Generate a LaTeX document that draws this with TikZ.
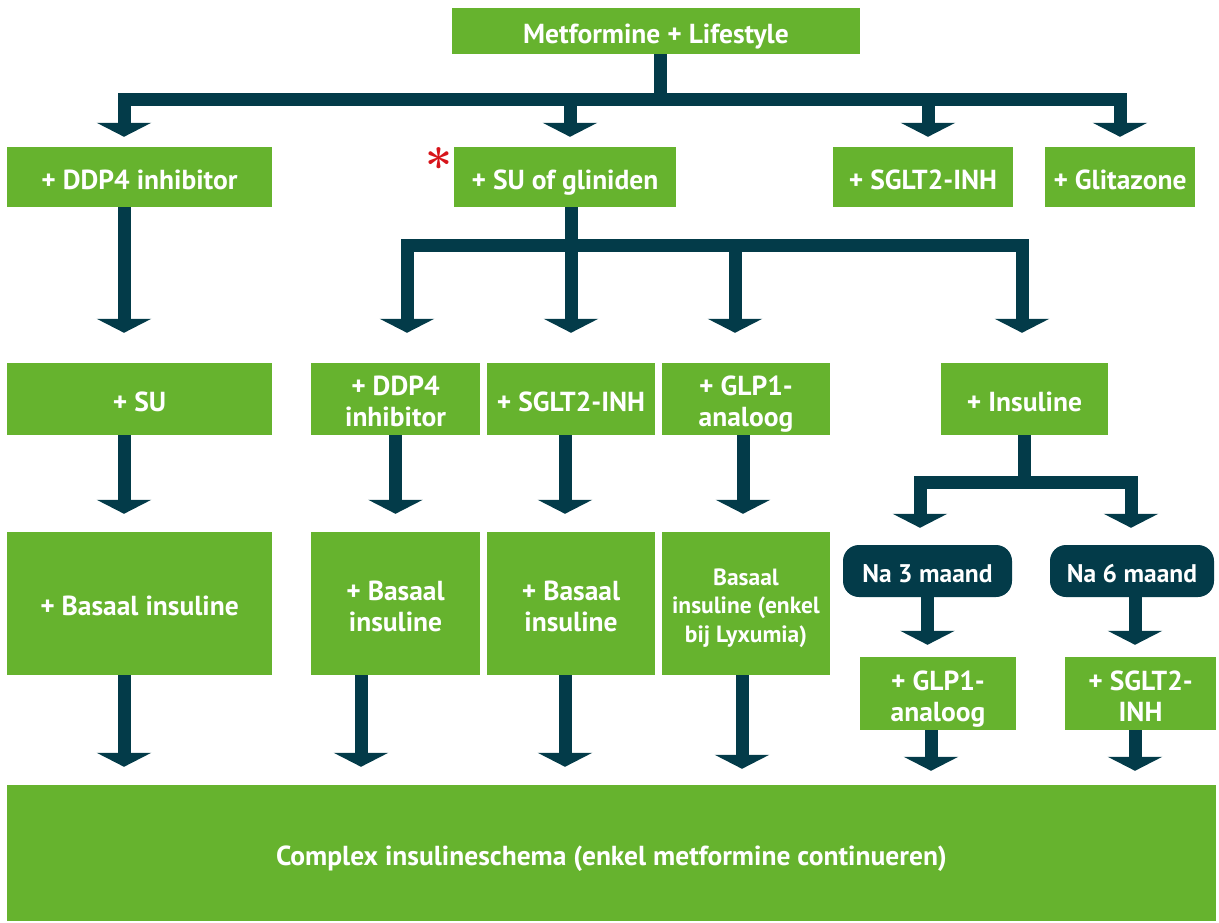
\documentclass[tikz,border=0pt]{standalone}
\usepackage{fontspec}
\newfontfamily\lab{PT Sans}
\usetikzlibrary{arrows.meta,calc}
\definecolor{gr}{HTML}{66B32E}
\definecolor{dk}{HTML}{033B49}
\definecolor{rd}{HTML}{D7141A}
% fixed height of first line and depth of last line, so every label sits alike
\newcommand\Tl{\rule{0pt}{1.14em}}
\newcommand\Bl{\rule[-0.25em]{0pt}{0pt}}
\begin{document}
\begin{tikzpicture}[x=1pt,y=-1pt,
  box/.style={fill=gr, text=white, font=\lab\bfseries\fontsize{27.5}{31}\selectfont, align=center, inner sep=0pt},
  smallbox/.style={box, font=\lab\bfseries\fontsize{23.5}{28.5}\selectfont},
  dbox/.style={box, fill=dk, rounded corners=16pt, font=\lab\bfseries\fontsize{25.5}{30}\selectfont},
  conn/.style={draw=dk, line width=13pt, line join=miter},
  arr/.style={conn, -{Triangle[width=54pt,length=14pt]}}]
\useasboundingbox (0,0) rectangle (1219,923);

% boxes
\node[box, minimum width=408pt, minimum height=46pt] (top) at (656,31) {\Tl Metformine + Lifestyle\Bl};

\node[box, minimum width=265pt, minimum height=60pt] (ddp4a) at (139.5,177) {\Tl + DDP4 inhibitor\Bl};
\node[box, minimum width=222pt, minimum height=60pt] (su) at (565,177) {\Tl + SU of gliniden\Bl};
\node[box, minimum width=180pt, minimum height=60pt] (sglt2a) at (923,177) {\Tl + SGLT2-INH\Bl};
\node[box, minimum width=150pt, minimum height=60pt] (glit) at (1120,177) {\Tl + Glitazone\Bl};
\node[text=rd, inner sep=0pt, font=\bfseries\fontsize{48}{48}\selectfont] (ast) at (439,166) {*};

\node[box, minimum width=265pt, minimum height=72pt] (su2) at (139.5,399) {\Tl + SU\Bl};
\node[box, minimum width=169pt, minimum height=72pt] (ddp4b) at (395.5,399) {\Tl + DDP4\\inhibitor\Bl};
\node[box, minimum width=168pt, minimum height=72pt] (sglt2b) at (571,399) {\Tl + SGLT2-INH\Bl};
\node[box, minimum width=168pt, minimum height=72pt] (glp1a) at (746,399) {\Tl + GLP1-\\analoog\Bl};
\node[box, minimum width=167pt, minimum height=72pt] (ins) at (1024.5,399) {\Tl + Insuline\Bl};

\node[box, minimum width=265pt, minimum height=143pt] (bas1) at (139.5,603.5) {\Tl + Basaal insuline\Bl};
\node[box, minimum width=169pt, minimum height=143pt] (bas2) at (395.5,603.5) {\Tl + Basaal\\insuline\Bl};
\node[box, minimum width=168pt, minimum height=143pt] (bas3) at (571,603.5) {\Tl + Basaal\\insuline\Bl};
\node[smallbox, minimum width=168pt, minimum height=143pt] (bas4) at (746,603.5) {\Tl Basaal\\insuline (enkel\\bij Lyxumia)\Bl};

\node[dbox, minimum width=169pt, minimum height=52pt] (na3) at (927.5,571) {\Tl Na 3 maand\Bl};
\node[dbox, minimum width=164pt, minimum height=52pt] (na6) at (1132,571) {\Tl Na 6 maand\Bl};

\node[box, minimum width=156pt, minimum height=73pt] (glp1b) at (938,693.5) {\Tl + GLP1-\\analoog\Bl};
\node[box, minimum width=151pt, minimum height=73pt] (sglt2c) at (1140.5,693.5) {\Tl + SGLT2-\\INH\Bl};

\node[box, minimum width=1209pt, minimum height=136pt] (bottom) at (611.5,853) {\Tl Complex insulineschema (enkel metformine continueren)\Bl};

% first split
\coordinate (j1) at (660,100);
\draw[conn] ([xshift=4pt]top.south) -- (j1);
\draw[arr] (j1) -| ([xshift=-15.5pt,yshift=10pt]ddp4a.north);
\draw[arr] (j1) -| ([xshift=5pt,yshift=10pt]su.north);
\draw[arr] (j1) -| ([xshift=5pt,yshift=10pt]sglt2a.north);
\draw[arr] (j1) -| ([yshift=10pt]glit.north);

% left column
\draw[arr] ([xshift=-15.5pt]ddp4a.south) -- ([xshift=-15.5pt,yshift=30pt]su2.north);
\draw[arr] ([xshift=-15.5pt]su2.south) -- ([xshift=-15.5pt,yshift=18pt]bas1.north);

% second split
\coordinate (j2) at (571,245.5);
\draw[conn] ([xshift=6pt]su.south) -- (j2);
\draw[arr] (j2) -| ([xshift=11.5pt,yshift=30pt]ddp4b.north);
\draw[arr] (j2) -| ([yshift=30pt]sglt2b.north);
\draw[arr] (j2) -| ([xshift=-11pt,yshift=30pt]glp1a.north);
\draw[arr] (j2) -| ([xshift=-2.5pt,yshift=30pt]ins.north);

% middle columns
\draw[arr] (ddp4b.south) -- ([yshift=18pt]bas2.north);
\draw[arr] ([xshift=-6pt]sglt2b.south) -- ([xshift=-6pt,yshift=18pt]bas3.north);
\draw[arr] ([xshift=-3pt]glp1a.south) -- ([xshift=-3pt,yshift=18pt]bas4.north);

% into bottom
\draw[arr] ([xshift=-15.5pt]bas1.south) -- ($(bas1.south |- bottom.north)+(-15.5,-18)$);
\draw[arr] ([xshift=-34.5pt]bas2.south) -- ($(bas2.south |- bottom.north)+(-34.5,-18)$);
\draw[arr] ([xshift=-6pt]bas3.south) -- ($(bas3.south |- bottom.north)+(-6,-18)$);
\draw[arr] ([xshift=-4pt]bas4.south) -- ($(bas4.south |- bottom.north)+(-4,-16)$);

% insuline split
\coordinate (j3) at (1024.5,482);
\draw[conn] (ins.south) -- (j3);
\draw[arr] (j3) -| ([xshift=-7.5pt,yshift=17pt]na3.north);
\draw[arr] (j3) -| ([xshift=-1pt,yshift=17pt]na6.north);
\draw[arr] (na3.south) -- ($(na3.south |- glp1b.north)+(0,-12)$);
\draw[arr] ([xshift=3pt]na6.south) -- ($(na6.south |- sglt2c.north)+(3,-12)$);
\draw[arr] ([xshift=-7pt]glp1b.south) -- ($(glp1b.south |- bottom.north)+(-7,-14)$);
\draw[arr] ([xshift=-5.5pt]sglt2c.south) -- ($(sglt2c.south |- bottom.north)+(-5.5,-14)$);
\end{tikzpicture}
\end{document}
